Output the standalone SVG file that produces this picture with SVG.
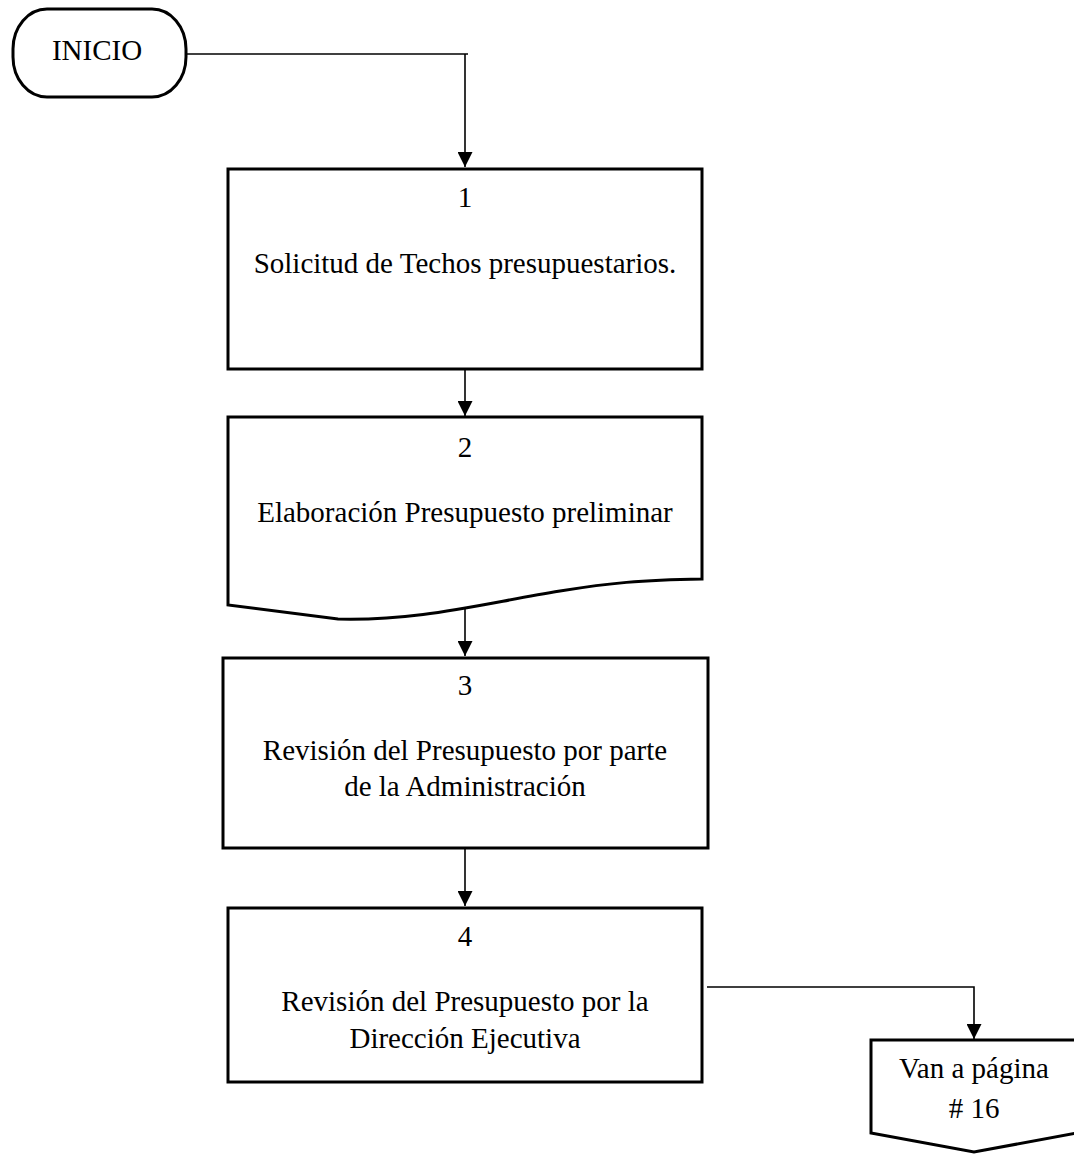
<svg xmlns="http://www.w3.org/2000/svg" width="1074" height="1154" viewBox="0 0 1074 1154">
<style>
.shape{fill:#fff;stroke:#000;stroke-width:3;stroke-linejoin:miter}
.conn{fill:none;stroke:#000;stroke-width:1.6}
text{font-family:"Liberation Serif","Times New Roman",serif;font-size:29px;fill:#000;text-anchor:middle}
</style>
<defs>
<marker id="arr" markerUnits="userSpaceOnUse" markerWidth="15" markerHeight="15" viewBox="0 0 15 15" refX="15" refY="7.5" orient="auto">
<path d="M0,0 L15,7.5 L0,15 Z" fill="#000"/>
</marker>
</defs>
<rect width="1074" height="1154" fill="#fff"/>
<g id="connectors">
<polyline class="conn" points="187,54 468,54"/>
<line class="conn" x1="465" y1="54" x2="465" y2="167" marker-end="url(#arr)"/>
<line class="conn" x1="465" y1="370" x2="465" y2="416" marker-end="url(#arr)"/>
<line class="conn" x1="465" y1="609" x2="465" y2="656" marker-end="url(#arr)"/>
<line class="conn" x1="465" y1="849" x2="465" y2="906" marker-end="url(#arr)"/>
<polyline class="conn" points="707,987 974,987 974,1039" marker-end="url(#arr)"/>
</g>
<g id="inicio">
<rect class="shape" x="13" y="9" width="173" height="88" rx="34" ry="40"/>
<text x="97" y="60">INICIO</text>
</g>
<g id="step1">
<rect class="shape" x="228" y="169" width="474" height="200"/>
<text x="465" y="207">1</text>
<text x="465" y="273">Solicitud de Techos presupuestarios.</text>
</g>
<g id="step2">
<path class="shape" d="M228,417 L702,417 L702,579 C 640,580 610,583 560,591 C 480,604 420,621 338,619 L228,605 Z"/>
<text x="465" y="457">2</text>
<text x="465" y="522">Elaboración Presupuesto preliminar</text>
</g>
<g id="step3">
<rect class="shape" x="223" y="658" width="485" height="190"/>
<text x="465" y="695">3</text>
<text x="465" y="760">Revisión del Presupuesto por parte</text>
<text x="465" y="796">de la Administración</text>
</g>
<g id="step4">
<rect class="shape" x="228" y="908" width="474" height="174"/>
<text x="465" y="946">4</text>
<text x="465" y="1011">Revisión del Presupuesto por la</text>
<text x="465" y="1048">Dirección Ejecutiva</text>
</g>
<g id="offpage">
<path class="shape" d="M871,1040 L1077,1040 L1077,1133 L974,1152 L871,1133 Z"/>
<text x="974" y="1078">Van a página</text>
<text x="974" y="1118"># 16</text>
</g>
</svg>
